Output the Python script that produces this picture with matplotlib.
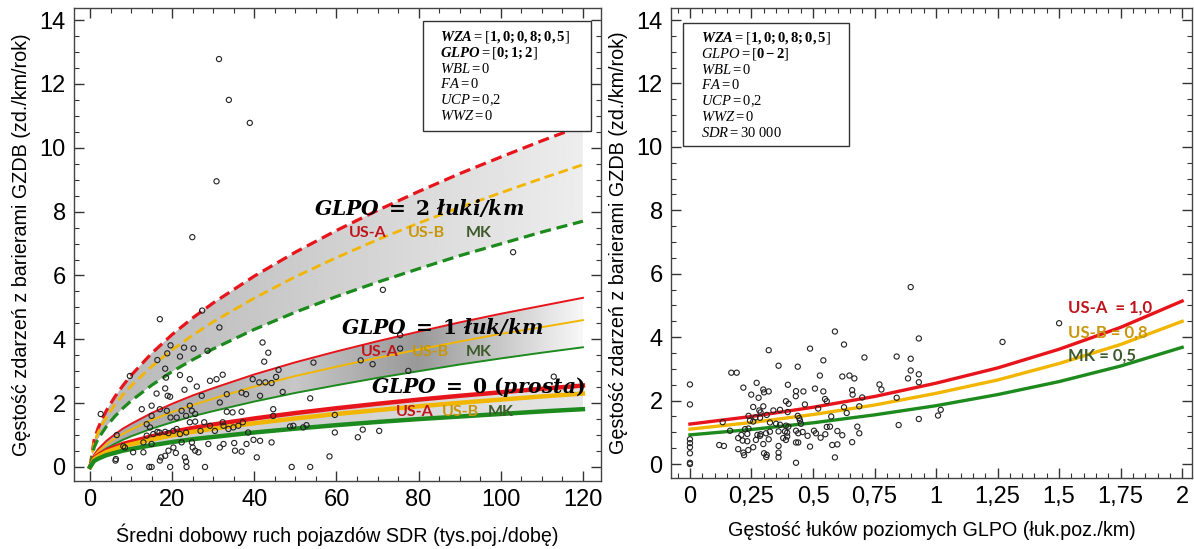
import numpy as np
import matplotlib
matplotlib.use("Agg")
import matplotlib.pyplot as plt
from matplotlib.ticker import MultipleLocator, FixedLocator

plt.rcParams['font.family'] = ['Liberation Sans', 'DejaVu Sans']
plt.rcParams['mathtext.fontset'] = 'custom'
plt.rcParams['mathtext.rm'] = 'Liberation Serif'
plt.rcParams['mathtext.it'] = 'Liberation Serif:italic'
plt.rcParams['mathtext.bf'] = 'Liberation Serif:bold'
plt.rcParams['mathtext.bfit'] = 'Liberation Serif:bold:italic'

# ---- left panel: model curves vs SDR ----
sdr = [0, 1, 2, 4, 6, 8, 10, 15, 20, 25, 30, 40, 50, 60, 70, 80, 90, 100, 110, 120]
g2_usa = [0, 0.85, 1.23, 1.77, 2.19, 2.55, 2.87, 3.56, 4.15, 4.67, 5.14, 5.98, 6.73, 7.41, 8.04, 8.63, 9.19, 9.71, 10.22, 10.70]
g2_usb = [0, 0.75, 1.09, 1.57, 1.94, 2.26, 2.54, 3.15, 3.67, 4.13, 4.55, 5.29, 5.96, 6.56, 7.12, 7.64, 8.13, 8.59, 9.04, 9.47]
g2_mk = [0, 0.61, 0.89, 1.27, 1.58, 1.84, 2.07, 2.56, 2.99, 3.36, 3.70, 4.31, 4.85, 5.34, 5.79, 6.21, 6.62, 6.99, 7.36, 7.70]
g1_usa = [0, 0.38, 0.56, 0.82, 1.02, 1.20, 1.35, 1.69, 1.98, 2.24, 2.47, 2.90, 3.28, 3.62, 3.94, 4.24, 4.53, 4.80, 5.05, 5.30]
g1_usb = [0, 0.33, 0.49, 0.71, 0.89, 1.04, 1.17, 1.47, 1.72, 1.94, 2.14, 2.52, 2.85, 3.14, 3.42, 3.68, 3.93, 4.17, 4.38, 4.60]
g1_mk = [0, 0.27, 0.40, 0.58, 0.72, 0.85, 0.96, 1.20, 1.40, 1.59, 1.75, 2.05, 2.32, 2.56, 2.79, 3.00, 3.21, 3.40, 3.58, 3.75]
g0_usa = [0, 0.27, 0.37, 0.52, 0.62, 0.72, 0.79, 0.96, 1.10, 1.22, 1.33, 1.52, 1.69, 1.84, 1.98, 2.11, 2.23, 2.34, 2.45, 2.55]
g0_usb = [0, 0.24, 0.33, 0.47, 0.56, 0.65, 0.71, 0.86, 0.99, 1.10, 1.20, 1.37, 1.52, 1.66, 1.78, 1.90, 2.01, 2.11, 2.21, 2.30]
g0_mk = [0, 0.19, 0.26, 0.37, 0.44, 0.51, 0.56, 0.68, 0.78, 0.87, 0.94, 1.08, 1.20, 1.31, 1.41, 1.50, 1.58, 1.66, 1.74, 1.81]

# observed points (left)
sdr_obs = [30.8, 24.9, 17.0, 27.3, 31.5, 16.4, 19.6, 18.8, 22.9, 25.2, 21.9, 28.6, 18.3, 9.7, 2.6, 42.0, 43.4, 42.4,
           30.8, 32.3, 29.2, 24.3, 18.5, 21.9, 26.0, 23.0, 18.3, 16.2, 18.9, 19.5, 27.2, 33.3, 36.9, 38.0, 39.6, 41.2,
           42.7, 44.2, 45.3, 45.9, 46.9, 54.4, 53.6, 12.6, 15.0, 17.0, 18.7, 22.3, 24.3, 24.8, 25.6, 23.4, 21.1, 19.6,
           15.0, 13.8, 14.6, 15.4, 16.9, 18.3, 19.1, 20.3, 21.1, 21.9, 23.4, 24.3, 25.6, 26.9, 27.8, 29.2, 30.4, 32.3,
           32.5, 33.7, 34.9, 36.1, 37.2, 38.5, 31.6, 33.3, 34.7, 36.9, 41.4, 44.6, 44.6, 49.5, 51.9, 6.3, 8.5, 10.5,
           13.0, 13.0, 15.0, 17.0, 18.3, 19.1, 20.3, 20.9, 22.3, 23.4, 25.0, 25.6, 26.4, 24.8, 28.8, 32.5, 31.6, 35.1,
           35.3, 36.9, 38.1, 39.8, 41.4, 40.6, 44.2, 58.3, 16.4, 13.8, 6.5, 8.1, 31.4, 33.8, 38.9, 103.0, 71.3, 65.9,
           68.8, 75.5, 75.5, 77.5, 112.9, 48.7, 52.7, 59.6, 59.6, 66.4, 65.2, 70.4, 53.6, 49.1, 9.7, 15.0, 19.5, 28.0,
           23.5, 14.4, 6.2, 17.3, 23.1]
gzdb_obs = [8.95, 7.2, 4.63, 4.9, 4.37, 3.35, 3.81, 3.56, 3.74, 3.71, 3.46, 3.64, 3.08, 2.85, 1.66, 3.9, 3.58, 3.3,
            2.75, 2.89, 2.7, 2.75, 2.8, 2.88, 2.52, 2.42, 2.46, 2.3, 2.23, 2.2, 2.23, 2.28, 2.33, 2.28, 2.75, 2.65,
            2.65, 2.63, 2.82, 3.04, 2.35, 3.27, 2.15, 1.81, 1.92, 1.81, 1.76, 1.76, 1.92, 1.76, 1.66, 1.6, 1.55, 1.55,
            1.6, 1.34, 1.24, 1.03, 1.08, 1.1, 1.06, 1.13, 1.19, 1.03, 1.08, 1.4, 1.42, 1.13, 1.4, 1.29, 1.13, 1.4,
            1.29, 1.19, 1.24, 1.29, 1.4, 1.08, 2.02, 1.73, 1.71, 1.73, 2.23, 1.81, 1.6, 1.29, 1.24, 0.25, 0.61, 0.46,
            0.46, 0.77, 0.72, 0.2, 0.35, 0.51, 0.61, 0.44, 0.77, 0.17, 0.61, 0.51, 0.46, 0.77, 0.72, 0.72, 0.61, 0.75,
            0.51, 0.48, 0.72, 0.85, 0.82, 0.3, 0.77, 0.33, 1.1, 0.98, 1.0, 0.65, 12.78, 11.5, 10.78, 6.73, 5.55, 3.34,
            3.22, 4.13, 3.71, 3.01, 2.83, 1.27, 1.31, 1.63, 1.08, 1.17, 0.93, 1.13, 0.0, 0.0, 0.0, 0.0, 0.0, 0.0,
            0.0, 0.0, 0.2, 0.3, 0.3]

# ---- right panel: model curves vs GLPO ----
glpo = [0, 0.25, 0.5, 0.75, 1.0, 1.25, 1.5, 1.75, 2.0]
glpo_labels = ['0', '0,25', '0,5', '0,75', '1', '1,25', '1,5', '1,75', '2']
r_usa = [1.26, 1.50, 1.79, 2.13, 2.55, 3.03, 3.62, 4.31, 5.14]
r_usb = [1.10, 1.31, 1.56, 1.86, 2.23, 2.65, 3.17, 3.77, 4.50]
r_mk = [0.92, 1.09, 1.30, 1.55, 1.84, 2.19, 2.60, 3.09, 3.68]

glpo_obs = [0.897, 0.93, 0.589, 0.626, 0.488, 0.32, 0.709, 0.84, 0.897, 0.542, 0.36, 0.438, 0.897, 0.168, 0.19,
            0.528, 0.619, 0.648, 0.668, 0.886, 0.93, 0.271, 0.398, 0.77, 0.93, 0.0, 0.217, 0.508, 0.298, 0.32,
            0.301, 0.431, 0.43, 0.461, 0.542, 0.659, 0.661, 0.778, 0.249, 0.279, 0.7, 0.84, 0.39, 0.401, 0.549,
            0.556, 0.0, 0.467, 0.257, 0.298, 0.339, 0.366, 0.397, 0.521, 0.626, 0.688, 0.282, 0.287, 0.312, 0.238,
            0.266, 0.285, 0.438, 0.444, 0.574, 0.637, 1.008, 1.019, 0.133, 0.244, 0.257, 0.325, 0.35, 0.366, 0.39,
            0.4, 0.447, 0.451, 0.569, 0.556, 0.68, 0.848, 0.93, 0.238, 0.224, 0.325, 0.36, 0.163, 0.209, 0.233,
            0.274, 0.287, 0.309, 0.386, 0.395, 0.431, 0.44, 0.458, 0.478, 0.504, 0.512, 0.531, 0.55, 0.599, 0.619,
            0.688, 0.196, 0.214, 0.233, 0.268, 0.285, 0.32, 0.379, 0.39, 0.395, 0.0, 0.0, 0.0, 0.0, 0.0, 0.119,
            0.138, 0.196, 0.217, 0.237, 0.257, 0.298, 0.301, 0.312, 0.36, 0.36, 0.36, 0.431, 0.44, 0.488, 0.578,
            0.599, 0.659, 0.589, 0.431, 1.50, 1.27, 0.0, 0.22, 0.31]
gzdb2_obs = [5.58, 3.96, 4.18, 3.77, 3.64, 3.59, 3.36, 3.39, 3.32, 3.27, 3.1, 3.07, 2.95, 2.88, 2.88,
             2.79, 2.76, 2.79, 2.7, 2.7, 2.83, 2.56, 2.5, 2.51, 2.58, 2.51, 2.41, 2.38, 2.35, 2.29,
             2.26, 2.3, 2.14, 2.29, 2.29, 2.33, 2.19, 2.35, 2.19, 2.09, 2.1, 2.09, 1.98, 1.9, 2.05,
             1.98, 1.88, 1.88, 1.8, 1.82, 1.69, 1.71, 1.64, 1.75, 1.79, 1.82, 1.69, 1.63, 1.55, 1.52,
             1.47, 1.46, 1.52, 1.45, 1.5, 1.61, 1.53, 1.71, 1.32, 1.37, 1.34, 1.31, 1.27, 1.24, 1.21,
             1.18, 1.37, 1.27, 1.18, 1.17, 1.18, 1.23, 1.42, 1.12, 1.1, 1.02, 1.03, 1.05, 0.92, 0.95,
             0.92, 0.94, 0.97, 1.03, 0.99, 1.05, 0.97, 1.01, 0.89, 1.05, 0.97, 0.83, 0.94, 1.04, 0.91,
             0.97, 0.82, 0.74, 0.72, 0.76, 0.89, 0.78, 0.82, 0.76, 0.87, 0.78, 0.66, 0.53, 0.34, 0.04, 0.6,
             0.57, 0.47, 0.36, 0.44, 0.53, 0.63, 0.34, 0.29, 0.57, 0.36, 0.21, 0.68, 0.68, 0.55, 0.6,
             0.62, 0.69, 0.21, 0.04, 4.44, 3.85, 0.0, 0.28, 0.22]

RED = '#e8141b'
GOLD = '#f2b600'
GREEN = '#1c8a1c'
LBL_RED = '#c0141c'
LBL_GOLD = '#c8960a'
LBL_GREEN = '#3d5a2b'

fig = plt.figure(figsize=(11.94, 5.49), dpi=100)
ax1 = fig.add_axes([74 / 1194, 68 / 549, 527 / 1194, 473 / 549])
ax2 = fig.add_axes([671 / 1194, 71 / 549, 521 / 1194, 470 / 549])


def band(ax, x, lo, hi, xs, vals):
    # grey gradient shading between two curves
    poly = ax.fill_between(x, lo, hi, facecolor='none', edgecolor='none')
    gx = np.linspace(x[0], x[-1], 300)
    grad = np.interp(gx, xs, vals)
    im = ax.imshow(grad[None, :], cmap='gray', vmin=0, vmax=1, aspect='auto',
                   extent=[x[0], x[-1], min(lo), max(hi)], zorder=1, interpolation='bilinear')
    im.set_clip_path(poly.get_paths()[0], transform=ax.transData)


band(ax1, sdr, g2_mk, g2_usa, [0, 40, 120], [0.72, 0.78, 0.93])
band(ax1, sdr, g1_mk, g1_usa, [0, 30, 50, 80, 120], [0.66, 0.70, 0.78, 0.6, 0.97])
band(ax1, sdr, g0_mk, g0_usa, [0, 60, 120], [0.8, 0.82, 0.9])

dash = (0, (3.5, 1.8))
ax1.plot(sdr, g2_usa, color=RED, lw=2.3, ls=dash, zorder=3)
ax1.plot(sdr, g2_usb, color=GOLD, lw=2.0, ls=dash, zorder=3)
ax1.plot(sdr, g2_mk, color=GREEN, lw=2.3, ls=dash, zorder=3)
ax1.plot(sdr, g1_usa, color=RED, lw=1.4, zorder=3)
ax1.plot(sdr, g1_usb, color=GOLD, lw=1.4, zorder=3)
ax1.plot(sdr, g1_mk, color=GREEN, lw=1.4, zorder=3)
ax1.plot(sdr, g0_usa, color=RED, lw=3.2, zorder=3)
ax1.plot(sdr, g0_usb, color=GOLD, lw=3.2, zorder=3)
ax1.plot(sdr, g0_mk, color=GREEN, lw=3.2, zorder=3)

ax1.scatter(sdr_obs, gzdb_obs, s=14, facecolors='none', edgecolors='#222222', linewidths=0.8, zorder=4)

big = dict(fontsize=14.6, zorder=6, ha='left', va='center', math_fontfamily='dejavuserif')
ax1.text(54.5, 8.12, r'$\mathbfit{GLPO}\mathbf{\ =\ 2}\ \mathbfit{łuki/km}$', **big)
ax1.text(61.0, 4.37, r'$\mathbfit{GLPO}\mathbf{\ =\ 1}\ \mathbfit{łuk/km}$', **big)
ax1.text(68.5, 2.5, r'$\mathbfit{GLPO}\mathbf{\ =\ 0\ (}\mathbfit{prosta}\mathbf{)}$', **big)

lab = dict(fontsize=11.5, fontweight='bold', family=['Lato', 'DejaVu Sans'], ha='center', va='center', zorder=6)
for yy, xa, xb, xm in [(7.34, 67.7, 82.0, 94.7), (3.59, 70.6, 82.8, 94.7), (1.72, 79.0, 90.3, 100.0)]:
    ax1.text(xa, yy, 'US-A', color=LBL_RED, **lab)
    ax1.text(xb, yy, 'US-B', color=LBL_GOLD, **lab)
    ax1.text(xm, yy, 'MK', color=LBL_GREEN, **lab)

# right panel
ax2.plot(glpo, r_usa, color=RED, lw=2.4, zorder=3)
ax2.plot(glpo, r_usb, color=GOLD, lw=2.4, zorder=3)
ax2.plot(glpo, r_mk, color=GREEN, lw=2.4, zorder=3)
ax2.scatter(glpo_obs, gzdb2_obs, s=14, facecolors='none', edgecolors='#222222', linewidths=0.8, zorder=4)

lab2 = dict(fontsize=12, fontweight='bold', family=['Lato', 'DejaVu Sans'], ha='left', va='center', zorder=6)
ax2.text(1.537, 4.92, 'US-A  = 1,0', color=LBL_RED, **lab2)
ax2.text(1.537, 4.16, 'US-B = 0,8', color=LBL_GOLD, **lab2)
ax2.text(1.537, 3.43, 'MK = 0,5', color=LBL_GREEN, **lab2)

# parameter boxes
box_left = [r'$\mathbfit{WZA} = [\mathbf{1,0;0,8;0,5}]$',
            r'$\mathbfit{GLPO} = [\mathbf{0;1;2}]$',
            r'$WBL = 0$', r'$FA = 0$', r'$UCP = 0{,}2$', r'$WWZ = 0$']
box_right = [r'$\mathbfit{WZA} = [\mathbf{1,0;0,8;0,5}]$',
             r'$GLPO = [\mathbf{0-2}]$',
             r'$WBL = 0$', r'$FA = 0$', r'$UCP = 0{,}2$', r'$WWZ = 0$', r'$SDR = 30\ 000$']


def param_box(x0, y0, x1, y1, lines, tx, ty):
    rect = plt.Rectangle((x0 / 1194, 1 - y1 / 549), (x1 - x0) / 1194, (y1 - y0) / 549,
                         transform=fig.transFigure, facecolor='white', edgecolor='#333333', lw=1.0, zorder=5)
    fig.add_artist(rect)
    for i, t in enumerate(lines):
        fig.text(tx / 1194, 1 - (ty + 15.8 * i) / 549, t, fontsize=10.5, ha='left', va='center', zorder=6)


param_box(423, 21, 591, 131, box_left, 440, 37)
param_box(683, 23, 849, 146, box_right, 701, 38)

for ax in (ax1, ax2):
    ax.set_ylim(-0.44, 14.38)
    ax.yaxis.set_major_locator(MultipleLocator(2))
    ax.yaxis.set_minor_locator(MultipleLocator(0.5))
    ax.tick_params(which='both', direction='in', top=True, right=True, labelsize=17, pad=6, color='#333333')
    ax.tick_params(which='major', length=7, width=1)
    ax.tick_params(which='minor', length=3.5, width=0.8)
    for s in ax.spines.values():
        s.set_color('#444444')
        s.set_linewidth(1.0)
    ax.set_ylabel('Gęstość zdarzeń z barierami GZDB (zd./km/rok)', fontsize=14.2, labelpad=6)

ax1.set_xlim(-3.9, 124.4)
ax1.xaxis.set_major_locator(MultipleLocator(20))
ax1.xaxis.set_minor_locator(MultipleLocator(5))
ax1.set_xlabel('Średni dobowy ruch pojazdów SDR (tys.poj./dobę)', fontsize=14.2, labelpad=9)

ax2.set_xlim(-0.077, 2.04)
ax2.xaxis.set_major_locator(FixedLocator(glpo))
ax2.set_xticklabels(glpo_labels)
ax2.xaxis.set_minor_locator(MultipleLocator(0.05))
ax2.set_xlabel('Gęstość łuków poziomych GLPO (łuk.poz./km)', fontsize=14.2, labelpad=9)

fig.savefig('out.png', dpi=100)
